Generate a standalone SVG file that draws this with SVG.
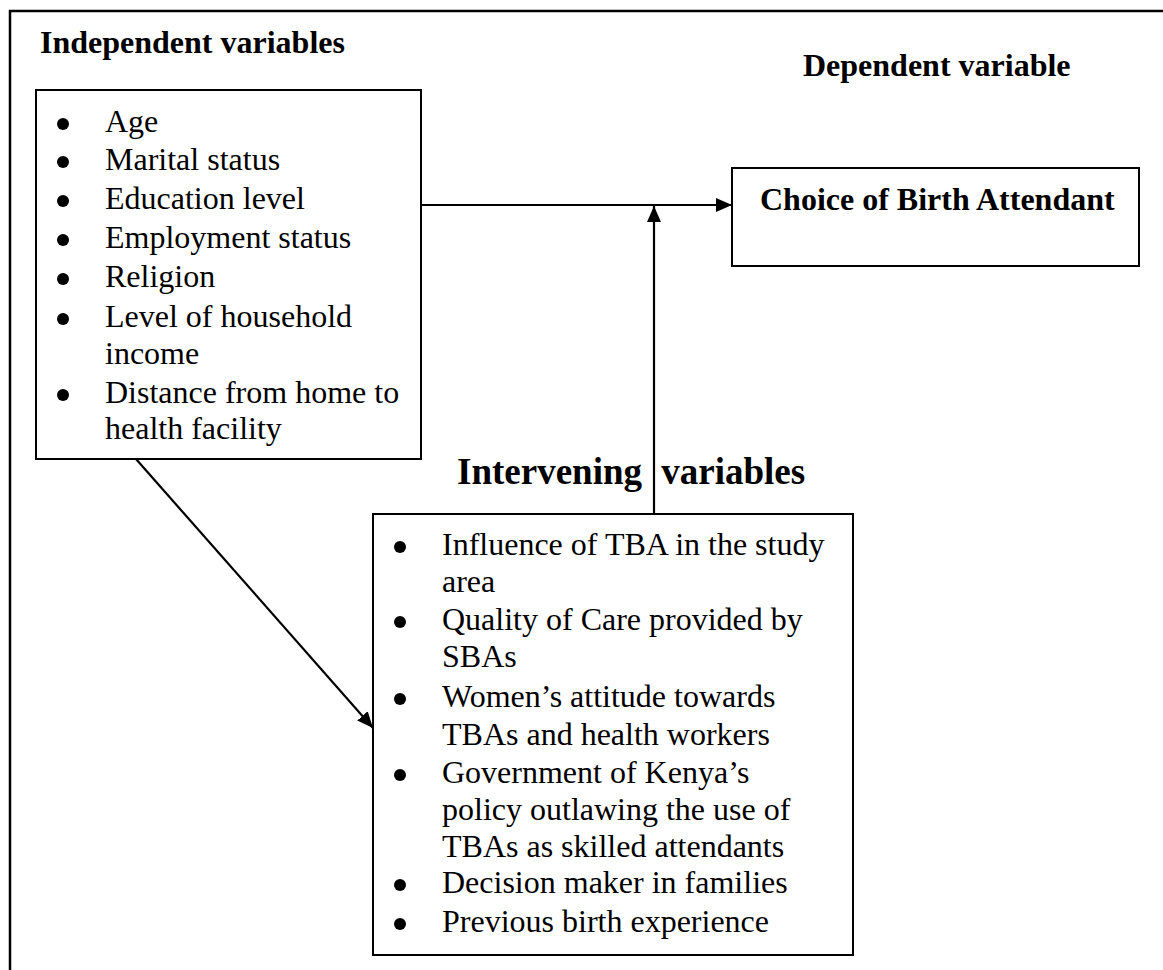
<svg xmlns="http://www.w3.org/2000/svg" width="1163" height="970" viewBox="0 0 1163 970">
<style>
.box{fill:#fff;stroke:#000;stroke-width:2}
.frame{fill:none;stroke:#000;stroke-width:2.5}
.t{font-family:"Liberation Serif","Times New Roman",serif;font-size:32px;fill:#000}
.b{font-weight:bold}
.big{font-size:37px;font-weight:bold}
.conn{stroke:#000;stroke-width:2.2;fill:none}
.dot{fill:#000}
</style>
<defs>
<marker id="ah" markerUnits="userSpaceOnUse" markerWidth="16" markerHeight="16" viewBox="0 0 16 16" refX="16" refY="8" orient="auto">
<path d="M0,1 L16,8 L0,15 Z" fill="#000"/>
</marker>
</defs>
<rect width="1163" height="970" fill="#fff"/>
<g id="frame">
<path class="frame" d="M10,970 L10,11 L1163,11"/>
</g>
<g id="heading-independent"><text class="t b" x="40" y="53">Independent variables</text></g>
<g id="heading-dependent"><text class="t b" x="803" y="76">Dependent variable</text></g>
<g id="independent">
<rect class="box" x="36" y="90" width="385" height="369"/>
<g class="dot">
<circle cx="63" cy="124" r="6"/><circle cx="63" cy="162" r="6"/><circle cx="63" cy="201" r="6"/><circle cx="63" cy="240" r="6"/><circle cx="63" cy="279" r="6"/><circle cx="63" cy="319" r="6"/><circle cx="63" cy="395" r="6"/>
</g>
<text class="t" x="105" y="132">Age</text>
<text class="t" x="105" y="170">Marital status</text>
<text class="t" x="105" y="209">Education level</text>
<text class="t" x="105" y="248">Employment status</text>
<text class="t" x="105" y="287">Religion</text>
<text class="t" x="105" y="327">Level of household</text>
<text class="t" x="105" y="364">income</text>
<text class="t" x="105" y="403">Distance from home to</text>
<text class="t" x="105" y="439">health facility</text>
</g>
<g id="dependent">
<rect class="box" x="732" y="168" width="407" height="98"/>
<text class="t b" x="760" y="210">Choice of Birth Attendant</text>
</g>
<g id="heading-intervening"><text class="t big" x="457" y="484" word-spacing="10">Intervening variables</text></g>
<g id="connectors">
<line class="conn" x1="421" y1="205" x2="732" y2="205" marker-end="url(#ah)"/>
<line class="conn" x1="654" y1="514" x2="654" y2="206" marker-end="url(#ah)"/>
<line class="conn" x1="136" y1="459" x2="373" y2="728" marker-end="url(#ah)"/>
</g>
<g id="intervening">
<rect class="box" x="373" y="514" width="480" height="441"/>
<g class="dot">
<circle cx="400" cy="547" r="6"/><circle cx="400" cy="622" r="6"/><circle cx="400" cy="699" r="6"/><circle cx="400" cy="775" r="6"/><circle cx="400" cy="885" r="6"/><circle cx="400" cy="924" r="6"/>
</g>
<text class="t" x="442" y="555">Influence of TBA in the study</text>
<text class="t" x="442" y="592">area</text>
<text class="t" x="442" y="630">Quality of Care provided by</text>
<text class="t" x="442" y="667">SBAs</text>
<text class="t" x="442" y="707">Women’s attitude towards</text>
<text class="t" x="442" y="745">TBAs and health workers</text>
<text class="t" x="442" y="783">Government of Kenya’s</text>
<text class="t" x="442" y="820">policy outlawing the use of</text>
<text class="t" x="442" y="857">TBAs as skilled attendants</text>
<text class="t" x="442" y="893">Decision maker in families</text>
<text class="t" x="442" y="932">Previous birth experience</text>
</g>
</svg>
